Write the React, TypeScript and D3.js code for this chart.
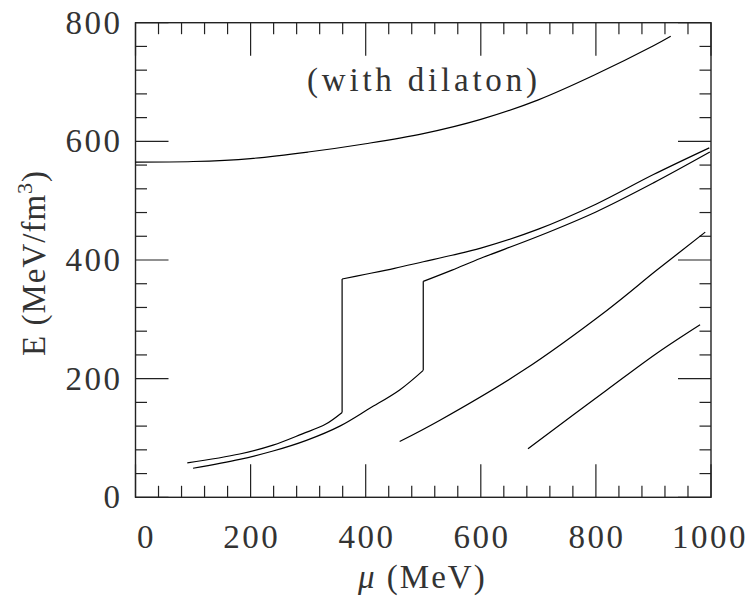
import React from 'react';
import * as d3 from 'd3';

// Curve with dilaton (top)
const muA = [0, 100, 200, 300, 400, 500, 600, 700, 800, 900, 930];
const eA = [565, 566, 571, 582, 596, 613, 637, 670, 713, 761, 777];

// Curve B (jump near 360)
const muB1 = [90, 181, 239, 290, 330, 359];
const eB1 = [58, 73, 88, 107, 123, 143];
const muB2 = [359, 400, 450, 500, 550, 600, 700, 800, 900, 997];
const eB2 = [368, 376, 386, 397, 408, 420, 452, 494, 544, 589];

// Curve C (jump near 500)
const muC1 = [100, 181, 239, 297, 355, 407, 459, 500];
const eC1 = [49, 64, 78, 96, 120, 150, 181, 214];
const muC2 = [500, 550, 600, 700, 800, 900, 998];
const eC2 = [364, 383, 403, 440, 481, 530, 582];

// Curve D
const muD = [459, 529, 674, 819, 906, 990];
const eD = [94, 130, 214, 315, 383, 447];

// Curve E
const muE = [682, 819, 906, 981];
const eE = [82, 181, 243, 291];

const xTicks = [0, 200, 400, 600, 800, 1000];
const yTicks = [0, 200, 400, 600, 800];

const W = 753, H = 601;
const L = 135.5, R = 711, T = 22.7, B = 497.3;

export default function App() {
  const x = d3.scaleLinear().domain([0, 1000]).range([L, R]);
  const y = d3.scaleLinear().domain([0, 800]).range([B, T]);
  const line = d3.line<[number, number]>().x(d => x(d[0])).y(d => y(d[1])).curve(d3.curveCatmullRom.alpha(0.5));
  const zip = (a: number[], b: number[]) => a.map((v, i) => [v, b[i]] as [number, number]);

  const segs: [number, number][][] = [
    zip(muA, eA),
    zip(muB1, eB1),
    zip(muB2, eB2),
    zip(muC1, eC1),
    zip(muC2, eC2),
    zip(muD, eD),
    zip(muE, eE),
  ];
  const jumps: [number, number, number][] = [
    [muB1[muB1.length - 1], eB1[eB1.length - 1], eB2[0]],
    [muC1[muC1.length - 1], eC1[eC1.length - 1], eC2[0]],
  ];

  const minorX = d3.range(0, 1001, 40);
  const minorY = d3.range(0, 801, 40);
  const isMajor = (v: number) => v % 200 === 0;
  const ax = '#222';
  const font = '"Liberation Serif", serif';
  const tc = '#333';

  return (
    <svg width={W} height={H} style={{ position: 'absolute', left: 0, top: 0, background: '#fff' }}>
      <rect x={0} y={0} width={W} height={H} fill="#fff" />
      {/* ticks */}
      <g stroke={ax} strokeWidth={1.2}>
        {minorX.map(v => {
          const len = isMajor(v) ? 33 : 11.5;
          return (
            <g key={'x' + v}>
              <line x1={x(v)} x2={x(v)} y1={B} y2={B - len} />
              <line x1={x(v)} x2={x(v)} y1={T} y2={T + len} />
            </g>
          );
        })}
        {minorY.map(v => {
          const len = isMajor(v) ? 33 : 11.5;
          return (
            <g key={'y' + v}>
              <line x1={L} x2={L + len} y1={y(v)} y2={y(v)} />
              <line x1={R} x2={R - len} y1={y(v)} y2={y(v)} />
            </g>
          );
        })}
        <rect x={L} y={T} width={R - L} height={B - T} fill="none" strokeWidth={1.4} />
      </g>
      {/* curves */}
      <g fill="none" stroke="#000" strokeWidth={1.2}>
        {segs.map((s, i) => <path key={i} d={line(s) || ''} />)}
        {jumps.map((j, i) => (
          <line key={'j' + i} x1={x(j[0])} x2={x(j[0])} y1={y(j[1])} y2={y(j[2])} />
        ))}
      </g>
      {/* tick labels */}
      <g fontFamily={font} fontSize={33} fill={tc} letterSpacing={2.5}>
        {xTicks.map((v, i) => (
          <text key={'xl' + v} x={x(v) + (i === 0 ? 11 : i === xTicks.length - 1 ? -1 : 1.2)} y={548} textAnchor="middle">{v}</text>
        ))}
        {yTicks.map(v => (
          <text key={'yl' + v} x={122.5} y={y(v) + 11} textAnchor="end">{v}</text>
        ))}
      </g>
      {/* annotation */}
      <text x={307} y={91} fontFamily={font} fontSize={33} fill={tc} letterSpacing={3.8}>(with dilaton)</text>
      {/* x title */}
      <text x={358} y={588} fontFamily={font} fontSize={33} fill={tc} letterSpacing={2}>
        <tspan fontStyle="italic">μ</tspan> (MeV)
      </text>
      {/* y title */}
      <text transform="translate(45,356) rotate(-90)" fontFamily={font} fontSize={33} fill={tc} letterSpacing={1}>
        E (MeV/fm<tspan dy={-13} fontSize={22}>3</tspan><tspan dy={13}>)</tspan>
      </text>
    </svg>
  );
}
